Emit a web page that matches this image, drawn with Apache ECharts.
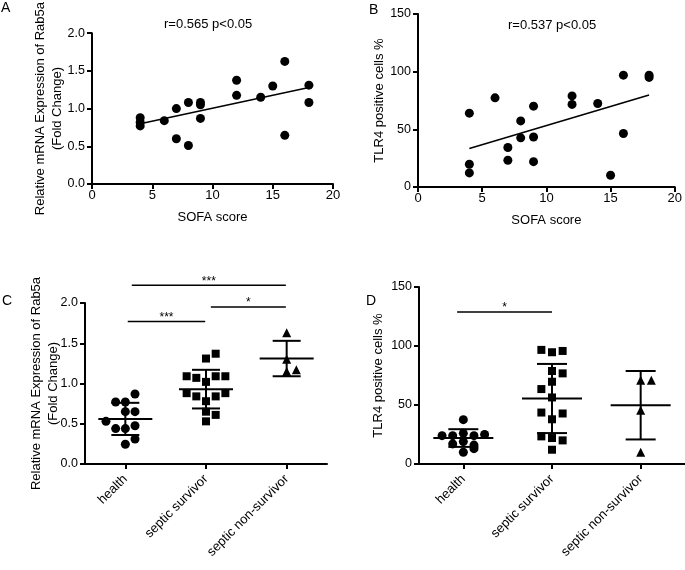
<!DOCTYPE html>
<html>
<head>
<meta charset="utf-8">
<script src="https://cdn.jsdelivr.net/npm/echarts@6/dist/echarts.min.js"></script>
<style>
  html, body { margin: 0; padding: 0; background: #fff; }
  #chart { width: 685px; height: 570px; }
</style>
</head>
<body>
<div id="chart"></div>
<script>
// panel A / B: SOFA score correlations
const sofaA = [4, 4, 4, 6, 7, 7, 8, 8, 9, 9, 9, 12, 12, 14, 15, 16, 16, 18, 18];
const rab5aA = [0.88, 0.82, 0.77, 0.84, 1.00, 0.60, 1.08, 0.51, 1.08, 1.05, 0.87, 1.375, 1.175, 1.15, 1.30, 1.625, 0.645, 1.31, 1.08];
const fitXA = [4, 18];
const fitYA = [0.80, 1.28];

const sofaB = [4, 4, 4, 6, 7, 7, 8, 8, 9, 9, 9, 12, 12, 14, 15, 16, 16, 18, 18];
const tlr4B = [64, 19.7, 12.2, 77.3, 34.2, 23.2, 57.3, 42.6, 70.1, 43.4, 22, 79, 71.6, 72.4, 10.2, 97, 46.4, 97, 95];
const fitXB = [4, 18];
const fitYB = [33.4, 79.7];

// panel C / D: groups
const groups = ['health', 'septic survivor', 'septic non-survivor'];

const rab5aHealth = [0.87, 0.77, 0.77, 0.65, 0.65, 0.53, 0.475, 0.44, 0.44, 0.31, 0.245];
const rab5aSurvivor = [1.31, 1.37, 1.09, 1.07, 1.02, 1.09, 1.09, 0.88, 0.84, 0.84, 0.88, 0.78, 0.65, 0.61, 0.53];
const rab5aNonSurvivor = [1.63, 1.30, 1.15, 1.17];
const rab5aMean = [0.56, 0.93, 1.31];
const rab5aSD = [0.20, 0.24, 0.22];
// dot slots (side-by-side position in the swarm)
const slotHealthC = [1, -1, 0, 0, 1, -2, 1, -1, 0, 1, 0];
const slotSurvivorC = [0, 1, -2, -1, 0, 1, 2, -2, -1, 1, 2, 0, 0, 1, 0];
const slotNonSurvivorC = [0, 0, 0, 1];

const tlr4Health = [37.6, 26, 24, 24, 24, 25, 19, 17, 16, 10, 13];
const tlr4Survivor = [96.7, 94.7, 95.8, 78.8, 76.8, 69.7, 63.5, 56.4, 43.6, 42.8, 37.9, 23.4, 22, 20, 12.1];
const tlr4NonSurvivor = [71, 71, 45.6, 10];
const tlr4Mean = [22, 55.5, 49.8];
const tlr4SD = [7.5, 29.3, 29];
const slotHealthD = [0, 0, -1, 1, -2, 2, 0, -1, 1, 0, 1];
const slotSurvivorD = [-1, 0, 1, 0, 1, 0, -1, 0, -1, 1, 0, -1, 0, 1, 0];
const slotNonSurvivorD = [0, 1, 0, 0];

// significance bars: [from, to, height]
const sigC = [[0.03, 0.99, 1.77], [1.06, 1.99, 1.95], [0.08, 1.99, 2.22]];
const sigLabelsC = ['***', '*', '***'];
const sigD = [[-0.07, 1.0, 128.8]];
const sigLabelsD = ['*'];

const FONT = 'Liberation Sans';
const SLOT = 0.12;

const chart = echarts.init(document.getElementById('chart'));

function pairs(xs, ys) {
    return xs.map((x, i) => [x, ys[i]]);
}

function swarm(groupIdx, values, slots) {
    return values.map((v, i) => [groupIdx + slots[i] * SLOT, v]);
}

function errorBars(halfMean, halfCap) {
    return function (params, api) {
        const x = api.value(0);
        const m = api.value(1);
        const s = api.value(2);
        const c = api.coord([x, m]);
        const hi = api.coord([x, m + s]);
        const lo = api.coord([x, m - s]);
        const style = { stroke: '#000', lineWidth: 2 };
        return {
            type: 'group',
            children: [
                { type: 'line', shape: { x1: c[0] - halfMean, y1: c[1], x2: c[0] + halfMean, y2: c[1] }, style },
                { type: 'line', shape: { x1: hi[0] - halfCap, y1: hi[1], x2: hi[0] + halfCap, y2: hi[1] }, style },
                { type: 'line', shape: { x1: lo[0] - halfCap, y1: lo[1], x2: lo[0] + halfCap, y2: lo[1] }, style },
                { type: 'line', shape: { x1: c[0], y1: hi[1], x2: c[0], y2: lo[1] }, style },
            ],
        };
    };
}

function sigBars(labels) {
    return function (params, api) {
        const a = api.coord([api.value(0), api.value(2)]);
        const b = api.coord([api.value(1), api.value(2)]);
        return {
            type: 'group',
            children: [
                { type: 'line', shape: { x1: a[0], y1: a[1], x2: b[0], y2: b[1] }, style: { stroke: '#000', lineWidth: 1.5 } },
                {
                    type: 'text',
                    x: (a[0] + b[0]) / 2,
                    y: a[1] + 2,
                    style: { text: labels[params.dataIndex], fill: '#000', font: '12px ' + FONT, align: 'center', verticalAlign: 'bottom' },
                },
            ],
        };
    };
}

const axisLine = { show: true, onZero: false, lineStyle: { color: '#000', width: 2 } };
const axisTick = { show: true, length: 5, lineStyle: { color: '#000', width: 2 } };
const axisLabel = { color: '#000', fontFamily: FONT, fontSize: 13, margin: 5 };
const nameStyle = { color: '#000', fontFamily: FONT, fontSize: 13, lineHeight: 17 };

function valueX(gridIndex) {
    return {
        type: 'value', gridIndex, min: 0, max: 20, interval: 5,
        axisLine, axisTick, axisLabel, splitLine: { show: false },
        name: 'SOFA score', nameLocation: 'middle', nameGap: 25, nameTextStyle: nameStyle,
        nameMoveOverlap: false,
    };
}

function categoryX(gridIndex) {
    return {
        type: 'category', gridIndex, data: groups,
        axisLine, axisTick: Object.assign({ alignWithLabel: true }, axisTick),
        axisLabel: Object.assign({ rotate: 45, interval: 0 }, axisLabel, { margin: 13 }),
        splitLine: { show: false },
    };
}

function hiddenX(gridIndex) {
    return { type: 'value', gridIndex, min: -0.5, max: 2.5, show: false, splitLine: { show: false } };
}

function yAxis(gridIndex, max, interval, digits, name, gap) {
    return {
        type: 'value', gridIndex, min: 0, max, interval,
        axisLine, axisTick, splitLine: { show: false },
        axisLabel: Object.assign({ formatter: (v) => v.toFixed(digits) }, axisLabel, { margin: 7, fontSize: 12.5 }),
        name, nameLocation: 'middle', nameRotate: 90, nameGap: gap, nameTextStyle: nameStyle,
        nameMoveOverlap: false,
    };
}

function dots(xAxisIndex, yAxisIndex, data, symbol, size) {
    return {
        type: 'scatter', xAxisIndex, yAxisIndex, data, symbol, symbolSize: size,
        itemStyle: { color: '#000', opacity: 1 }, z: 2,
    };
}

function fitLine(xAxisIndex, yAxisIndex, data) {
    return {
        type: 'line', xAxisIndex, yAxisIndex, data, symbol: 'none',
        lineStyle: { color: '#000', width: 1.6 }, z: 3,
    };
}

function textEl(text, left, top, size) {
    return { type: 'text', left, top, style: { text, fill: '#000', font: size + 'px ' + FONT } };
}

const option = {
    animation: false,
    grid: [
        { left: 92, top: 24, width: 241, height: 160 },
        { left: 418, top: 14, width: 262, height: 173 },
        { left: 85, top: 303, width: 242, height: 161 },
        { left: 419, top: 287, width: 266, height: 177 },
    ],
    xAxis: [
        valueX(0),
        valueX(1),
        categoryX(2),
        categoryX(3),
        hiddenX(2),
        hiddenX(3),
    ],
    yAxis: [
        yAxis(0, 2, 0.5, 1, 'Relative mRNA Expression of Rab5a\n(Fold Change)', 26),
        yAxis(1, 150, 50, 0, 'TLR4 positive cells %', 30),
        yAxis(2, 2, 0.5, 1, 'Relative mRNA Expression of Rab5a\n(Fold Change)', 23),
        yAxis(3, 150, 50, 0, 'TLR4 positive cells %', 32),
    ],
    graphic: [
        textEl('A', 1, 1, 14),
        textEl('B', 369, 3, 14),
        textEl('C', 2, 294, 14),
        textEl('D', 366, 294, 14),
        textEl('r=0.565 p<0.05', 164, 18, 13),
        textEl('r=0.537 p<0.05', 508, 19, 13),
    ],
    series: [
        dots(0, 0, pairs(sofaA, rab5aA), 'circle', 9),
        fitLine(0, 0, pairs(fitXA, fitYA)),
        dots(1, 1, pairs(sofaB, tlr4B), 'circle', 9),
        fitLine(1, 1, pairs(fitXB, fitYB)),

        dots(4, 2, swarm(0, rab5aHealth, slotHealthC), 'circle', 9),
        dots(4, 2, swarm(1, rab5aSurvivor, slotSurvivorC), 'rect', 8),
        dots(4, 2, swarm(2, rab5aNonSurvivor, slotNonSurvivorC), 'triangle', 9),
        {
            type: 'custom', xAxisIndex: 4, yAxisIndex: 2, z: 4,
            renderItem: errorBars(27, 14),
            data: rab5aMean.map((m, i) => [i, m, rab5aSD[i]]),
        },
        {
            type: 'custom', xAxisIndex: 4, yAxisIndex: 2, z: 4, clip: false,
            renderItem: sigBars(sigLabelsC),
            data: sigC,
        },

        dots(5, 3, swarm(0, tlr4Health, slotHealthD), 'circle', 9),
        dots(5, 3, swarm(1, tlr4Survivor, slotSurvivorD), 'rect', 8),
        dots(5, 3, swarm(2, tlr4NonSurvivor, slotNonSurvivorD), 'triangle', 9),
        {
            type: 'custom', xAxisIndex: 5, yAxisIndex: 3, z: 4,
            renderItem: errorBars(30, 15),
            data: tlr4Mean.map((m, i) => [i, m, tlr4SD[i]]),
        },
        {
            type: 'custom', xAxisIndex: 5, yAxisIndex: 3, z: 4, clip: false,
            renderItem: sigBars(sigLabelsD),
            data: sigD,
        },
    ],
};

chart.setOption(option);
</script>
</body>
</html>
